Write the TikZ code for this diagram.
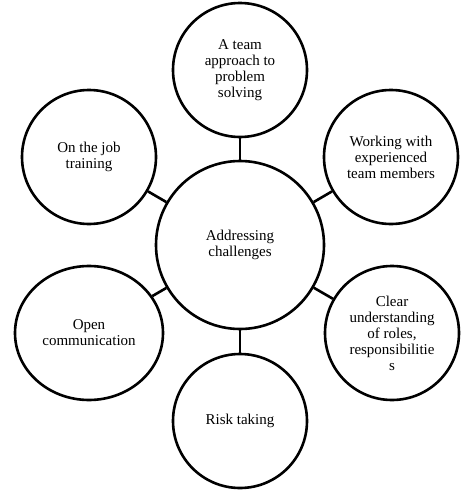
\documentclass[tikz,border=0pt]{standalone}
\usepackage{fontspec}
\setmainfont{Liberation Serif}
\usetikzlibrary{shapes.geometric}

\tikzset{
  bubble/.style={draw,circle,line width=2.6pt,minimum size=134pt,inner sep=0pt,
    align=center,font=\fontsize{15}{16}\selectfont},
  hub/.style={bubble,minimum size=168pt},
  link/.style={line width=2.6pt}
}

\begin{document}
\begin{tikzpicture}[x=1pt,y=-1pt]
\useasboundingbox (0,0) rectangle (474,490);

% centre and the six bubbles round it
\node[hub] (centre) at (240,245) {Addressing\\challenges};
\node[bubble] (team) at (240,70) {A team\\approach to\\problem\\solving};
\node[bubble] (job) at (89,157) {On the job\\training};
\node[bubble] (work) at (391,157) {Working with\\experienced\\team members};
\node[bubble,ellipse,minimum width=148pt,minimum height=134pt] (open) at (89,333) {Open\\communication};
\node[bubble] (roles) at (392,333) {Clear\\understanding\\of roles,\\responsibilitie\\s};
\node[bubble] (risk) at (240,421) {Risk taking};

% spokes
\foreach \n in {team,job,work,open,roles,risk}
  \draw[link] (centre) -- (\n);

\end{tikzpicture}
\end{document}
